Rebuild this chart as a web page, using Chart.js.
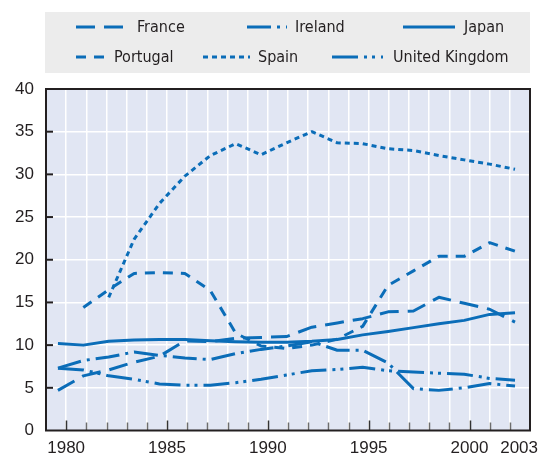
<!DOCTYPE html>
<html>
<head>
<meta charset="utf-8">
<script src="https://cdn.jsdelivr.net/npm/chart.js@4.4.1/dist/chart.umd.min.js"></script>
<style>
  html, body { margin: 0; padding: 0; background: #fff; }
</style>
</head>
<body>
<canvas id="chart" width="540" height="458"></canvas>
<script>
// Temporary employment, share of dependent employment (%)
const years = [1985, 1986, 1987, 1988, 1989, 1990, 1991, 1992, 1993, 1994,
               1995, 1996, 1997, 1998, 1999, 2000, 2001, 2002, 2003];

const france   = [4.7, 6.4, 7.1, 8.0, 8.7, 10.5, 10.4, 10.8, 10.9, 11.0,
                  12.1, 12.6, 13.1, 13.9, 14.0, 15.6, 14.9, 14.2, 12.7];
const ireland  = [7.3, 8.2, 8.6, 9.2, 8.8, 8.5, 8.3, 9.0, 9.5, 9.9,
                  10.4, 9.4, 9.4, 7.9, 4.9, 4.7, 5.0, 5.5, 5.2];
const japan    = [10.2, 10.0, 10.45, 10.6, 10.65, 10.65, 10.5, 10.4, 10.35, 10.35,
                  10.45, 10.65, 11.2, 11.6, 12.05, 12.5, 12.9, 13.6, 13.8];
const portugal = [null, 14.4, 16.5, 18.4, 18.5, 18.4, 16.4, 11.4, 9.9, 9.6,
                  10.0, 10.7, 12.2, 17.0, 18.7, 20.4, 20.4, 22.0, 21.0];
const spain    = [null, null, 15.6, 22.4, 26.6, 29.8, 32.2, 33.6, 32.3, 33.7,
                  35.0, 33.7, 33.6, 33.0, 32.8, 32.2, 31.7, 31.2, 30.6];
const uk       = [7.3, 7.1, 6.4, 6.0, 5.45, 5.3, 5.3, 5.6, 6.0, 6.5,
                  7.0, 7.15, 7.4, 7.0, 6.85, 6.7, 6.6, 6.1, 5.9];

// axis labels as printed on the chart
const axisYears = [1979, 1980, 1981, 1982, 1983, 1984, 1985, 1986, 1987, 1988, 1989, 1990,
                   1991, 1992, 1993, 1994, 1995, 1996, 1997, 1998, 1999, 2000, 2001, 2002, 2003];
const xLabels = [1980, 1985, 1990, 1995, 2000, 2003];

const BLUE = '#0b6db8';
const INK = '#231f20';
const tickFont = "17px 'Liberation Sans', Arial, sans-serif";
const legendFont = "16px 'Liberation Sans Narrow', 'DejaVu Sans Condensed', sans-serif";

function toPoints(values) {
    return years.map((yr, i) => ({ x: yr, y: values[i] }));
}

function series(label, values, dash) {
    return {
        label: label,
        data: toPoints(values),
        xAxisID: 'xd',
        borderColor: BLUE,
        backgroundColor: BLUE,
        borderWidth: 3,
        borderDash: dash,
        borderCapStyle: 'butt',
        borderJoinStyle: 'round',
        pointRadius: 0,
        tension: 0,
        fill: false
    };
}

// where each legend entry sits: [sample x, sample length, text x, row y]
const legendSpots = [
    [76, 52, 137, 27], [247, 40, 295, 27], [403, 52, 464, 27],
    [76, 29, 114, 57], [203, 47, 258, 57], [332, 51, 393, 57]
];

const chromePlugin = {
    id: 'chrome',
    beforeDraw(chart) {
        const ctx = chart.ctx, a = chart.chartArea;
        ctx.save();
        ctx.fillStyle = '#ececec';
        ctx.fillRect(45, 12, 485, 61);
        ctx.fillStyle = '#e1e6f3';
        ctx.fillRect(a.left, a.top, a.right - a.left, a.bottom - a.top);
        ctx.restore();
    },
    afterDatasetsDraw(chart) {
        const ctx = chart.ctx, a = chart.chartArea;
        const xs = chart.scales.x, ys = chart.scales.y;
        ctx.save();
        // small ticks inside the frame
        axisYears.forEach(yr => {
            if (yr === 1979 || yr === 2003) return;
            const px = Math.round(xs.getPixelForValue(yr)) + 0.5;
            const major = yr % 5 === 0;
            ctx.strokeStyle = major ? '#333' : '#6d6d6d';
            ctx.lineWidth = 1.5;
            ctx.beginPath();
            ctx.moveTo(px, a.bottom);
            ctx.lineTo(px, a.bottom - (major ? 10 : 8));
            ctx.stroke();
        });
        ys.ticks.forEach(t => {
            if (t.value === 0 || t.value === 40) return;
            const py = ys.getPixelForValue(t.value);
            ctx.strokeStyle = INK;
            ctx.lineWidth = 2;
            ctx.beginPath();
            ctx.moveTo(a.left, py);
            ctx.lineTo(a.left + 7, py);
            ctx.stroke();
        });
        // frame
        ctx.strokeStyle = INK;
        ctx.lineWidth = 2;
        ctx.strokeRect(a.left, a.top, a.right - a.left, a.bottom - a.top);
        ctx.restore();
    },
    afterDraw(chart) {
        const ctx = chart.ctx, a = chart.chartArea;
        const xs = chart.scales.x;
        ctx.save();
        // x labels, kept inside the canvas
        ctx.font = tickFont;
        ctx.fillStyle = INK;
        ctx.textBaseline = 'middle';
        ctx.textAlign = 'left';
        xLabels.forEach(yr => {
            const txt = String(yr);
            const w = ctx.measureText(txt).width;
            let left = xs.getPixelForValue(yr) - w / 2;
            if (left + w > chart.width - 2) left = chart.width - 2 - w;
            ctx.fillText(txt, left, a.bottom + 18);
        });
        // legend
        ctx.font = legendFont;
        chart.data.datasets.forEach((ds, i) => {
            const [sx, len, tx, ry] = legendSpots[i];
            ctx.strokeStyle = ds.borderColor;
            ctx.lineWidth = ds.borderWidth;
            ctx.setLineDash(ds.borderDash || []);
            ctx.beginPath();
            ctx.moveTo(sx, ry);
            ctx.lineTo(sx + len, ry);
            ctx.stroke();
            ctx.setLineDash([]);
            ctx.fillStyle = INK;
            ctx.fillText(ds.label, tx, ry + 1);
        });
        ctx.restore();
    }
};

const ctx = document.getElementById('chart').getContext('2d');
new Chart(ctx, {
    type: 'line',
    data: {
        datasets: [
            series('France', france, [19, 9]),
            series('Ireland', ireland, [24, 6, 3, 6]),
            series('Japan', japan, []),
            series('Portugal', portugal, [10, 8]),
            series('Spain', spain, [5, 4]),
            series('United Kingdom', uk, [26, 6, 3, 5, 3, 6])
        ]
    },
    options: {
        responsive: false,
        animation: false,
        layout: { padding: { top: 89, right: 10, bottom: 27.5, left: 0 } },
        plugins: {
            legend: { display: false },
            tooltip: { enabled: false }
        },
        scales: {
            x: {
                type: 'linear',
                position: 'bottom',
                min: 1979,
                max: 2003,
                afterBuildTicks: axis => { axis.ticks = axisYears.map(v => ({ value: v })); },
                ticks: { display: false },
                grid: { color: '#ffffff', lineWidth: 1.5, drawTicks: false },
                border: { display: false },
                afterFit: s => { s.height = 0; s.paddingLeft = 0; s.paddingRight = 0; }
            },
            // the series are spaced on their own hidden scale
            xd: {
                type: 'linear',
                display: false,
                min: 1984.53,
                max: 2003.59
            },
            y: {
                min: 0,
                max: 40,
                ticks: {
                    stepSize: 5,
                    padding: 12,
                    color: INK,
                    font: { family: "'Liberation Sans', Arial, sans-serif", size: 17 }
                },
                grid: { color: '#ffffff', lineWidth: 1.5, drawTicks: false },
                border: { display: false },
                afterFit: s => { s.width = 46; }
            }
        }
    },
    plugins: [chromePlugin]
});
</script>
</body>
</html>
